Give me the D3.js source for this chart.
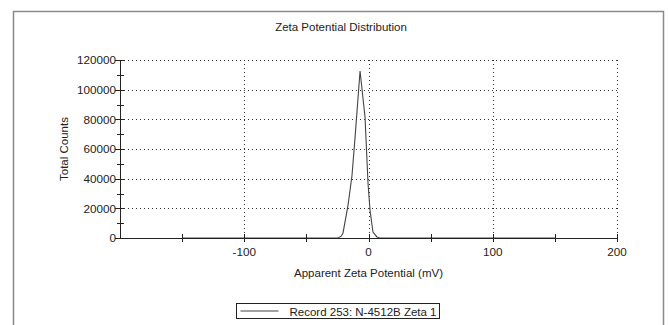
<!DOCTYPE html>
<html>
<head>
<meta charset="utf-8">
<script src="https://cdn.jsdelivr.net/npm/d3@7"></script>
<style>
  body { margin: 0; background: #fff; }
  text { font-family: "Liberation Sans", Arial, sans-serif; fill: #222; }
</style>
</head>
<body>
<div id="chart"></div>
<script>
// zeta potential (mV) and total counts
const zeta = [-150, -30, -24.5, -22, -20.5, -16.5, -13.3, -10.9, -6.8, -2.8, -0.4, 1.2, 3.6, 6.8, 9, 150]
const counts = [0, 0, 0, 1200, 3400, 22000, 42000, 67000, 112600, 81600, 37100, 18900, 4000, 700, 0, 0]
const xTickValues = [-100, 0, 100, 200]
const yTickValues = [0, 20000, 40000, 60000, 80000, 100000, 120000]
const legendLabel = 'Record 253: N-4512B Zeta 1'

const W = 668
const H = 325
const margin = { top: 60, left: 120, right: 51, bottom: 87 }
const width = W - margin.left - margin.right
const height = H - margin.top - margin.bottom

const root = d3.select('#chart')
  .append('svg')
  .attr('width', W)
  .attr('height', H)

// outer frame (bottom edge is cut off)
root.append('path')
  .attr('d', 'M13.5,325 V11.5 H663.5 V325')
  .attr('fill', 'none')
  .attr('stroke', '#8a8a8a')
  .attr('stroke-width', 1.5)

root.append('text')
  .attr('x', 341)
  .attr('y', 31)
  .attr('text-anchor', 'middle')
  .style('font-size', '11.5px')
  .text('Zeta Potential Distribution')

const svg = root.append('g')
  .attr('transform', 'translate(' + margin.left + ',' + margin.top + ')')

const x = d3.scaleLinear().domain([-200, 200]).range([0, width])
const y = d3.scaleLinear().domain([0, 120000]).range([height, 0])

// dotted grid
svg.append('g')
  .selectAll('line')
  .data(yTickValues.filter(d => d > 0))
  .enter()
  .append('line')
  .attr('x1', 0)
  .attr('x2', width)
  .attr('y1', d => Math.round(y(d)) + 0.5)
  .attr('y2', d => Math.round(y(d)) + 0.5)
  .attr('stroke', '#333')
  .attr('stroke-dasharray', '1,3')

svg.append('g')
  .selectAll('line')
  .data(xTickValues)
  .enter()
  .append('line')
  .attr('x1', d => Math.round(x(d)) + 0.5)
  .attr('x2', d => Math.round(x(d)) + 0.5)
  .attr('y1', 0)
  .attr('y2', height)
  .attr('stroke', '#333')
  .attr('stroke-dasharray', '1,3')

// data line
const line = d3.line()
  .x((d, i) => x(zeta[i]))
  .y(d => y(d))

svg.append('path')
  .datum(counts)
  .attr('d', line)
  .attr('fill', 'none')
  .attr('stroke', '#444')
  .attr('stroke-width', 1.1)

// y axis: minor ticks every 10000 crossing the axis, labels on majors
const yAxis = svg.append('g').attr('class', 'y-axis')
yAxis.append('line')
  .attr('x1', 0.5).attr('x2', 0.5)
  .attr('y1', 0).attr('y2', height)
  .attr('stroke', '#222')
yAxis.selectAll('.tick')
  .data(d3.range(0, 120001, 10000))
  .enter()
  .append('line')
  .attr('x1', d => (d % 20000 === 0 ? -5 : -3))
  .attr('x2', 4)
  .attr('y1', d => Math.round(y(d)) + 0.5)
  .attr('y2', d => Math.round(y(d)) + 0.5)
  .attr('stroke', '#222')
yAxis.selectAll('text')
  .data(yTickValues)
  .enter()
  .append('text')
  .attr('x', -4)
  .attr('y', d => y(d))
  .attr('dy', '0.36em')
  .attr('text-anchor', 'end')
  .style('font-size', '11.7px')
  .text(d => d)

// x axis
const xAxis = svg.append('g').attr('class', 'x-axis')
xAxis.append('line')
  .attr('x1', 0).attr('x2', width)
  .attr('y1', height + 0.5).attr('y2', height + 0.5)
  .attr('stroke', '#222')
xAxis.selectAll('.tick')
  .data(d3.range(-150, 201, 50))
  .enter()
  .append('line')
  .attr('x1', d => Math.round(x(d)) + 0.5)
  .attr('x2', d => Math.round(x(d)) + 0.5)
  .attr('y1', height - 4)
  .attr('y2', height + 4)
  .attr('stroke', '#222')
xAxis.selectAll('text')
  .data(xTickValues)
  .enter()
  .append('text')
  .attr('x', d => x(d))
  .attr('y', height + 18)
  .attr('text-anchor', 'middle')
  .style('font-size', '11.7px')
  .text(d => d)

svg.append('text')
  .attr('x', x(0))
  .attr('y', height + 39)
  .attr('text-anchor', 'middle')
  .style('font-size', '11.5px')
  .text('Apparent Zeta Potential (mV)')

svg.append('text')
  .attr('transform', 'translate(' + -52 + ',' + height / 2 + ') rotate(-90)')
  .attr('text-anchor', 'middle')
  .style('font-size', '11.5px')
  .text('Total Counts')

// legend
const legend = root.append('g').attr('transform', 'translate(236.5,303.5)')
legend.append('rect')
  .attr('width', 203)
  .attr('height', 15)
  .attr('fill', '#fff')
  .attr('stroke', '#222')
legend.append('line')
  .attr('x1', 4).attr('x2', 42)
  .attr('y1', 7.5).attr('y2', 7.5)
  .attr('stroke', '#444')
legend.append('text')
  .attr('x', 200)
  .attr('y', 12)
  .attr('text-anchor', 'end')
  .style('font-size', '11.5px')
  .text(legendLabel)
</script>
</body>
</html>
